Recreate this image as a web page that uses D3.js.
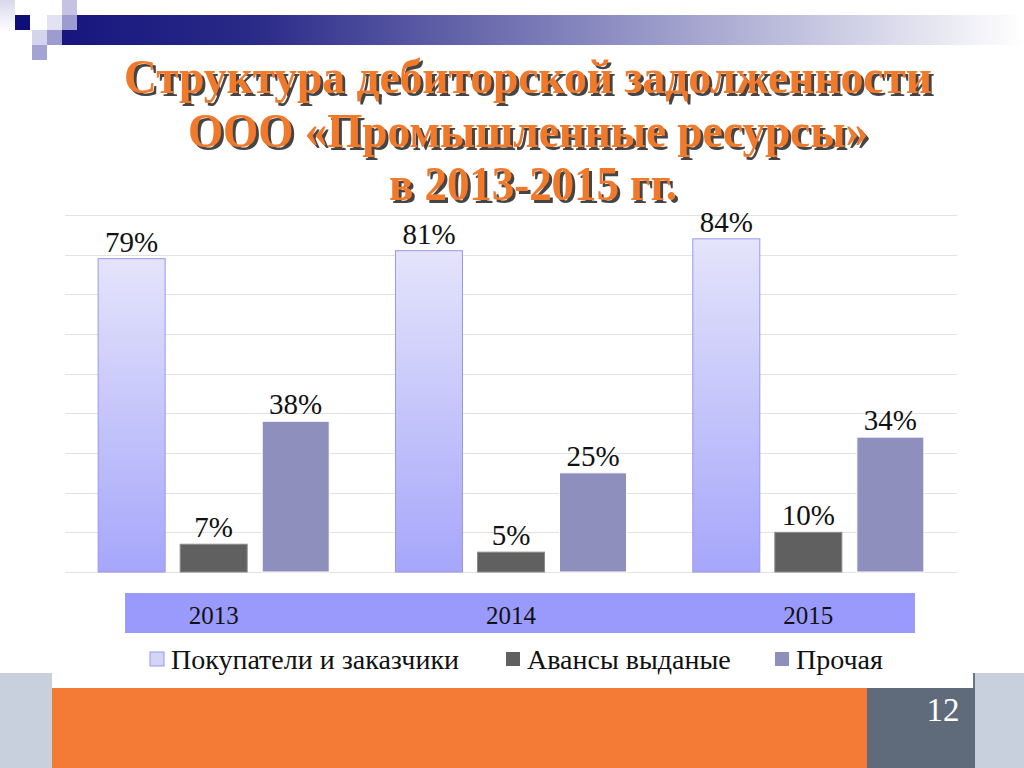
<!DOCTYPE html>
<html><head><meta charset="utf-8">
<script src="https://cdn.jsdelivr.net/npm/d3@7"></script>
<style>
html,body{margin:0;padding:0;background:#fff;}
svg{display:block;}
svg text{font-family:"Liberation Serif","Times New Roman","DejaVu Serif",serif;}
</style>
</head><body>
<svg id="c" width="1024" height="768"></svg>
<script>
// ---- data ----
const years = ["2013", "2014", "2015"];
const seriesNames = ["Покупатели и заказчики", "Авансы выданые", "Прочая"];
const buyers = [79, 81, 84];
const advances = [7, 5, 10];
const other = [38, 25, 34];
const yTicks = [0, 10, 20, 30, 40, 50, 60, 70, 80, 90];
const titleLines = ["Структура дебиторской задолженности", "ООО «Промышленные ресурсы»", "в 2013-2015 гг."];
const pageNumber = "12";

const seriesValues = [buyers, advances, other];
const rows = years.map((y, i) => ({year: y, vals: seriesNames.map((s, k) => ({series: s, k, v: seriesValues[k][i]}))}));

const svg = d3.select("#c");
const defs = svg.append("defs");

// gradients
const g1 = defs.append("linearGradient").attr("id", "gBuy").attr("x1", 0).attr("y1", 0).attr("x2", 0).attr("y2", 1);
g1.append("stop").attr("offset", "0%").attr("stop-color", "#e4e4fb");
g1.append("stop").attr("offset", "100%").attr("stop-color", "#a6a6fb");
const gTop = defs.append("linearGradient").attr("id", "gTop").attr("x1", 0).attr("y1", 0).attr("x2", 1).attr("y2", 0);
gTop.append("stop").attr("offset", "0%").attr("stop-color", "#16167e");
gTop.append("stop").attr("offset", "20%").attr("stop-color", "#2a2a88");
gTop.append("stop").attr("offset", "55%").attr("stop-color", "#8888c0");
gTop.append("stop").attr("offset", "100%").attr("stop-color", "#ffffff");
const gLeft = defs.append("linearGradient").attr("id", "gLeft").attr("x1", 0).attr("y1", 0).attr("x2", 0).attr("y2", 1);
gLeft.append("stop").attr("offset", "0%").attr("stop-color", "#d8d8ec");
gLeft.append("stop").attr("offset", "100%").attr("stop-color", "#ffffff");
const sh = defs.append("filter").attr("id", "tsh").attr("x", "-5%").attr("y", "-20%").attr("width", "110%").attr("height", "150%");
sh.append("feDropShadow").attr("dx", 3).attr("dy", 3).attr("stdDeviation", 0.6)
  .attr("flood-color", "#333333").attr("flood-opacity", 0.9);

// ---- top decoration ----
svg.append("rect").attr("x", 0).attr("y", 0).attr("width", 15).attr("height", 32).attr("fill", "url(#gLeft)");
svg.append("rect").attr("x", 62).attr("y", 15).attr("width", 962).attr("height", 30).attr("fill", "url(#gTop)");
const sq = [
  [62, 0, "#c4c4e2"], [15, 15, "#0e0e78"], [47, 15, "#e2e2f2"], [62, 15, "#9c9cd0"],
  [32, 30, "#d4d4ec"], [47, 30, "#9c9cd0"], [32, 45, "#a4a4d4"]
];
svg.selectAll("rect.sq").data(sq).join("rect").attr("class", "sq")
  .attr("x", d => d[0]).attr("y", d => d[1]).attr("width", 15).attr("height", 15).attr("fill", d => d[2]);

// ---- title ----
const tBase = [93, 147, 200], tCx = [528, 528, 533], tLen = [808, 680, 288];
svg.append("g").attr("filter", "url(#tsh)").selectAll("text").data(titleLines).join("text")
  .attr("x", (d, i) => tCx[i]).attr("y", (d, i) => tBase[i])
  .attr("text-anchor", "middle").attr("font-weight", "bold").attr("font-size", 49).attr("fill", "#f07a2c")
  .attr("textLength", (d, i) => tLen[i]).attr("lengthAdjust", "spacingAndGlyphs").text(d => d);

// ---- scales ----
const x0 = d3.scaleBand().domain(years).range([65, 957]).paddingInner(0).paddingOuter(0);
const x1 = d3.scaleBand().domain(seriesNames).range([0, x0.bandwidth()]).paddingInner(0.183).paddingOuter(0.404);
const y = d3.scaleLinear().domain([0, 90]).range([572, 215]);
const fills = ["url(#gBuy)", "#606060", "#8e8fbd"];
const strokes = ["#9898ec", "#8a8a8a", "#ffffff"];
const legendFills = ["#d4d4f8", "#606060", "#8e8fbd"];

// gridlines
svg.append("g").selectAll("line").data(yTicks).join("line")
  .attr("x1", 65).attr("x2", 957).attr("y1", d => Math.round(y(d)) + 0.5).attr("y2", d => Math.round(y(d)) + 0.5)
  .attr("stroke", "#e2e2e2").attr("stroke-width", 1.2);

// bars
const grp = svg.append("g").selectAll("g").data(rows).join("g")
  .attr("transform", d => `translate(${x0(d.year)},0)`);
grp.selectAll("rect").data(d => d.vals).join("rect")
  .attr("x", d => x1(d.series)).attr("width", x1.bandwidth())
  .attr("y", d => y(d.v)).attr("height", d => y(0) - y(d.v))
  .attr("fill", d => fills[d.k]).attr("stroke", d => strokes[d.k]).attr("stroke-width", 1);
grp.selectAll("text").data(d => d.vals).join("text")
  .attr("x", d => x1(d.series) + x1.bandwidth() / 2).attr("y", d => y(d.v) - 7)
  .attr("text-anchor", "middle").attr("font-size", 29).attr("fill", "#111").text(d => d.v + "%");

// category band
svg.append("rect").attr("x", 125).attr("y", 593).attr("width", 790).attr("height", 40).attr("fill", "#9a9afc");
svg.append("g").selectAll("text").data(years).join("text")
  .attr("x", d => x0(d) + x0.bandwidth() / 2).attr("y", 624)
  .attr("text-anchor", "middle").attr("font-size", 25).attr("fill", "#111").text(d => d);

// legend
const legX = [150, 506, 775];
const leg = svg.append("g").selectAll("g").data(seriesNames).join("g")
  .attr("transform", (d, i) => `translate(${legX[i]},0)`);
leg.append("rect").attr("x", 0).attr("y", 652).attr("width", 14).attr("height", 14)
  .attr("fill", (d, i) => legendFills[i]).attr("stroke", (d, i) => i === 0 ? "#9898ec" : "none");
leg.append("text").attr("x", 21).attr("y", 669)
  .attr("font-size", 28).attr("fill", "#111").text(d => d);

// ---- bottom decoration ----
svg.append("rect").attr("x", 0).attr("y", 673).attr("width", 52).attr("height", 95).attr("fill", "#c8d0de");
svg.append("rect").attr("x", 975).attr("y", 673).attr("width", 49).attr("height", 95).attr("fill", "#c8d0de");
svg.append("rect").attr("x", 973).attr("y", 673).attr("width", 2).attr("height", 15).attr("fill", "#6a7584");
svg.append("rect").attr("x", 52).attr("y", 688).attr("width", 815).attr("height", 80).attr("fill", "#f47b35");
svg.append("rect").attr("x", 867).attr("y", 688).attr("width", 108).attr("height", 80).attr("fill", "#5f6b7a");
svg.append("text").attr("x", 943).attr("y", 721).attr("text-anchor", "middle")
  .attr("font-size", 33).attr("fill", "#fff").text(pageNumber);
</script>
</body></html>
